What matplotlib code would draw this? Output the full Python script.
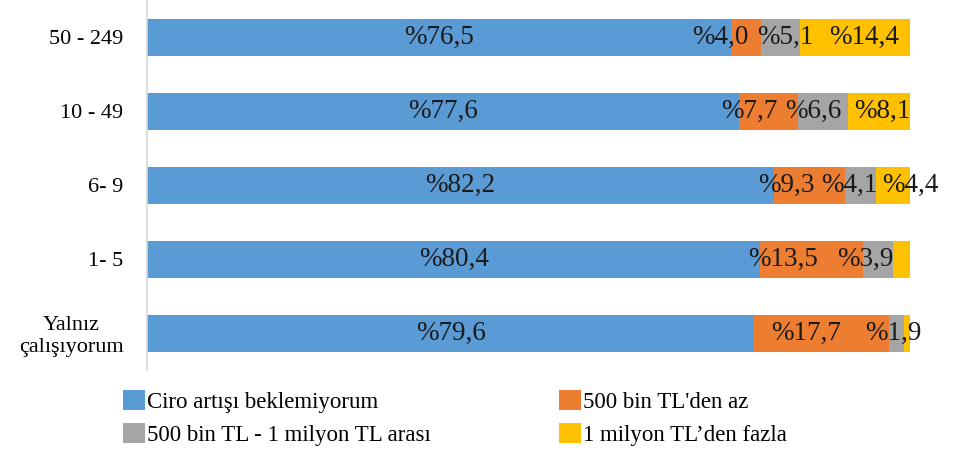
import numpy as np
import matplotlib
matplotlib.use('Agg')
import matplotlib.pyplot as plt

plt.rcParams['font.family'] = ['Liberation Serif', 'DejaVu Serif']

# data (shares in percent, top row first)
categories = ['50 - 249', '10 - 49', '6- 9', '1- 5', 'Yalnız\nçalışıyorum']
ciro_yok = [76.5, 77.6, 82.2, 80.4, 79.6]
bin500_az = [4.0, 7.7, 9.3, 13.5, 17.7]
bin500_1milyon = [5.1, 6.6, 4.1, 3.9, 1.9]
milyon_fazla = [14.4, 8.1, 4.4, 2.2, 0.8]
# which yellow segments carry a label in the original
fazla_labelled = [True, True, True, False, False]

series_names = ['Ciro artışı beklemiyorum', "500 bin TL'den az",
                '500 bin TL - 1 milyon TL arası', '1 milyon TL’den fazla']
colors = ['#5B9BD5', '#ED7D31', '#A5A5A5', '#FFC000']

# horizontal nudges (pixels) of the labels, like the original's label placement
nudges = [
    [0, 0, 0, 0, 0],
    [-26, -19, -23, -29, -16],
    [5, -10, -11, -13, -3],
    [9, 3, 17, 0, 0],
]


def fmt(v):
    return '%' + f'{v:.1f}'.replace('.', ',')


fig = plt.figure(figsize=(9.71, 4.51), dpi=100)
ax = fig.add_axes([147/971, 81/451, 763/971, 370/451])

y = np.arange(len(categories))
series = [ciro_yok, bin500_az, bin500_1milyon, milyon_fazla]
left = np.zeros(len(categories))
for i, (vals, name, col) in enumerate(zip(series, series_names, colors)):
    vals = np.array(vals)
    ax.barh(y, vals, left=left, height=0.5, color=col, label=name)
    for j, v in enumerate(vals):
        if i == 3 and not fazla_labelled[j]:
            continue
        ax.annotate(fmt(v), (left[j] + v / 2, y[j]),
                    xytext=(nudges[i][j] * 0.72, 0), textcoords='offset points',
                    ha='center', va='center', fontsize=19.5, color='#1a1a1a')
    left += vals

ax.set_xlim(0, 100)
ax.set_ylim(4.5, -0.5)
ax.set_yticks(y)
ax.set_yticklabels(categories, fontsize=16, multialignment='center')
ax.tick_params(axis='y', length=0, pad=17)
ax.set_xticks([])
for s in ['top', 'right', 'bottom']:
    ax.spines[s].set_visible(False)
ax.spines['left'].set_color('#D9D9D9')
ax.spines['left'].set_linewidth(1.2)

# legend filled row by row like the original
handles, labs = ax.get_legend_handles_labels()
order = [0, 2, 1, 3]
fig.legend([handles[k] for k in order], [labs[k] for k in order], ncol=2,
           loc='upper left', bbox_to_anchor=(123/971, 1 - 390/451),
           frameon=False, fontsize=16.5, handlelength=0.95, handleheight=0.95,
           handletextpad=0.1, columnspacing=5.6, labelspacing=0.45,
           borderpad=0, borderaxespad=0)

fig.savefig('out.png', dpi=100)
